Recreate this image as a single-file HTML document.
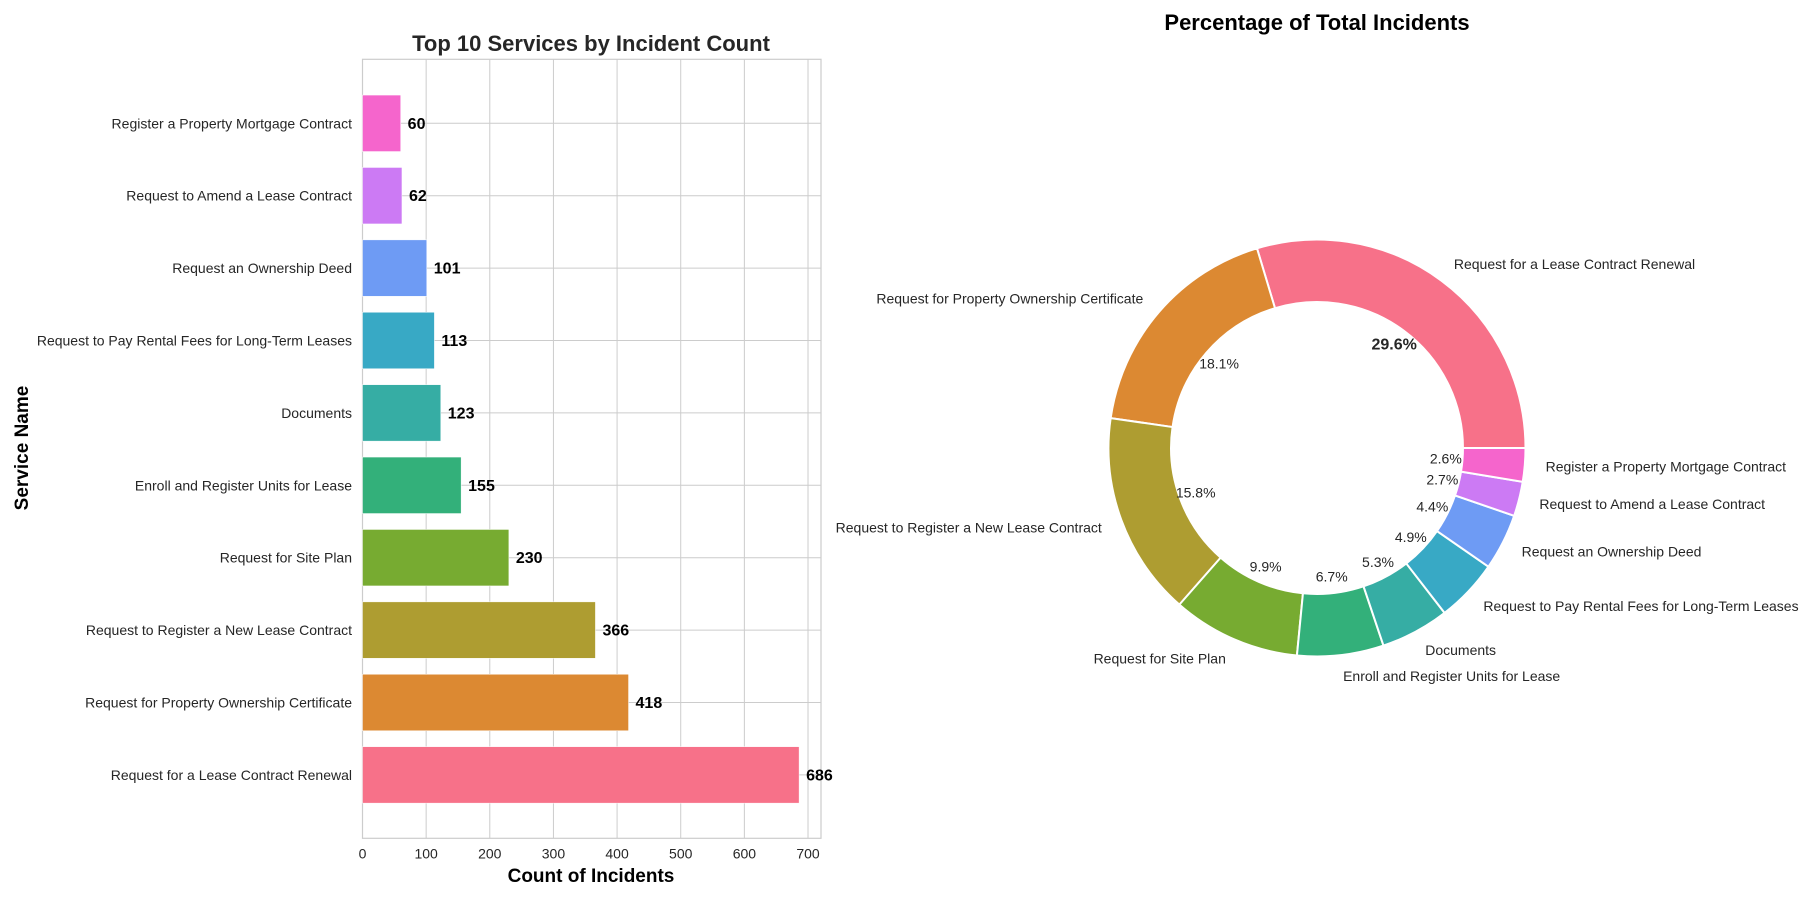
<!DOCTYPE html>
<html><head><meta charset="utf-8">
<style>
body{margin:0;background:#fff;}
svg{display:block;font-family:"Liberation Sans",Arial,sans-serif;}
</style></head>
<body>
<svg id="chart" width="1800" height="900" viewBox="0 0 1800 900">
<g id="bar"></g>
<g id="pie"></g>
</svg>
<script>
const categories = ["Request for a Lease Contract Renewal","Request for Property Ownership Certificate","Request to Register a New Lease Contract","Request for Site Plan","Enroll and Register Units for Lease","Documents","Request to Pay Rental Fees for Long-Term Leases","Request an Ownership Deed","Request to Amend a Lease Contract","Register a Property Mortgage Contract"];
const counts = [686,418,366,230,155,123,113,101,62,60];
const colors = ["#f77189","#dc8932","#ae9d31","#77ab31","#33b07a","#36ada4","#38a9c5","#6e9bf4","#cc7af4","#f565cc"];
const xTicks = [0,100,200,300,400,500,600,700];

const NS="http://www.w3.org/2000/svg";
function mk(parent,tag,attrs,text){const e=document.createElementNS(NS,tag);for(const k in attrs)e.setAttribute(k,attrs[k]);if(text!==undefined)e.textContent=text;parent.appendChild(e);return e;}

// ---- bar chart ----
const bar=document.getElementById('bar');
const L=362.5,R=821,T=59.3,B=838.3,xMax=720.4;
const n=categories.length;
const step=72.4, c0=123.3+(n-1)*step; // center of index 0 (bottom)
const xs=v=>L+v/xMax*(R-L);
const ys=i=>c0-i*step;
// grid
xTicks.forEach(t=>{
 const g=mk(bar,'line',{x1:xs(t),x2:xs(t),y1:T,y2:B,stroke:'#cccccc','stroke-width':1});
 
 
 const tl=mk(bar,'text',{x:xs(t),y:B+20,'text-anchor':'middle','font-size':14,fill:'#262626'},t);
 
 
});
categories.forEach((c,i)=>{
 const g=mk(bar,'line',{x1:L,x2:R,y1:ys(i),y2:ys(i),stroke:'#cccccc','stroke-width':1});
 
 
});
const frame=mk(bar,'rect',{x:L,y:T,width:R-L,height:B-T,fill:'none',stroke:'#cccccc','stroke-width':1.2});


const bh=step*0.78;
categories.forEach((c,i)=>{
 const r=mk(bar,'rect',{x:L,y:ys(i)-bh/2,width:xs(counts[i])-L,height:bh,fill:colors[i],stroke:'#fff','stroke-width':0.5});
 
 
 const v=mk(bar,'text',{x:xs(counts[i])+7,y:ys(i)+5.5,'font-size':16,'font-weight':'bold',fill:'#000'},counts[i]);
 
 
 const tl=mk(bar,'text',{x:352,y:ys(i)+5,'text-anchor':'end','font-size':14,fill:'#262626'},c);
 
 
});
const bt=mk(bar,'text',{x:591,y:51,'text-anchor':'middle','font-size':22,'font-weight':'bold',fill:'#262626'},'Top 10 Services by Incident Count');


const xl=mk(bar,'text',{x:591,y:882,'text-anchor':'middle','font-size':19,'font-weight':'bold',fill:'#000'},'Count of Incidents');


const yl=mk(bar,'text',{x:0,y:0,transform:'translate(28,448) rotate(-90)','text-anchor':'middle','font-size':19,'font-weight':'bold',fill:'#000'},'Service Name');



// ---- donut ----
const pie=document.getElementById('pie');
const cx=1317,cy=448,Ro=208.5,Ri=Ro*0.7;
const total=counts.reduce((a,b)=>a+b,0);
let ang=0;
const P=(r,a)=>[cx+r*Math.cos(a*Math.PI/180),cy-r*Math.sin(a*Math.PI/180)];
counts.forEach((v,i)=>{
 const sweep=v/total*360, a0=ang, a1=ang+sweep; ang=a1;
 const [x0,y0]=P(Ro,a0),[x1,y1]=P(Ro,a1),[x2,y2]=P(Ri,a1),[x3,y3]=P(Ri,a0);
 const lg=sweep>180?1:0;
 const d=`M${x0},${y0} A${Ro},${Ro} 0 ${lg} 0 ${x1},${y1} L${x2},${y2} A${Ri},${Ri} 0 ${lg} 1 ${x3},${y3} Z`;
 const s=mk(pie,'path',{d:d,fill:colors[i],stroke:'#fff','stroke-width':2});
 
 
 const mid=(a0+a1)/2;
 const [lx,ly]=P(Ro*1.1,mid);
 const anchor=Math.cos(mid*Math.PI/180)>=0?'start':'end';
 const lt=mk(pie,'text',{x:lx,y:ly+5,'text-anchor':anchor,'font-size':14,fill:'#262626'},categories[i]);
 
 
 const [px,py]=P(Ro*0.62,mid);
 const pt=mk(pie,'text',{x:px,y:py+5,'text-anchor':'middle','font-size':i===0?16:14,'font-weight':i===0?'bold':'normal',fill:'#262626'},(v/total*100).toFixed(1)+'%');
 
 
});
const pt=mk(pie,'text',{x:1317,y:30,'text-anchor':'middle','font-size':22,'font-weight':'bold',fill:'#000'},'Percentage of Total Incidents');


</script>
</body></html>
